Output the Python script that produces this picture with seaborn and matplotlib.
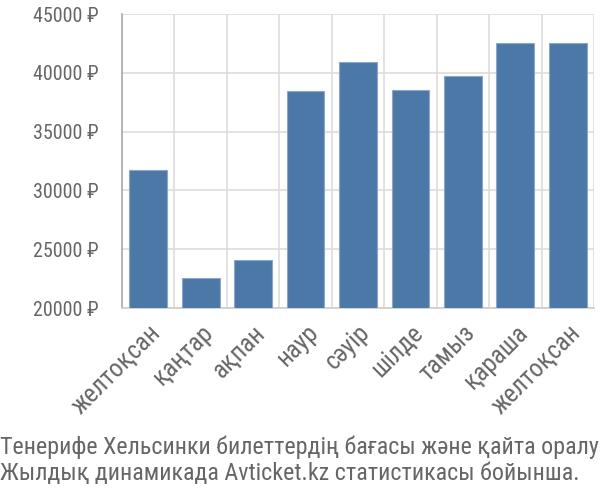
import matplotlib
matplotlib.use("Agg")
import matplotlib.pyplot as plt
import seaborn as sns
import pandas as pd
import numpy as np
from matplotlib.ticker import FixedLocator, FuncFormatter

months = ["желтоқсан", "қаңтар", "ақпан", "наур", "сәуір", "шілде", "тамыз", "қараша", "желтоқсан "]
prices = [31700, 22550, 24050, 38450, 40900, 38500, 39750, 42550, 42550]
yticks = [20000, 25000, 30000, 35000, 40000, 45000]
caption = ["Тенерифе Хельсинки билеттердің бағасы және қайта оралу",
           "Жылдық динамикада Avticket.kz статистикасы бойынша."]

sns.set_style("white")
FAM = ['Roboto Condensed', 'DejaVu Sans']
plt.rcParams['font.family'] = FAM

df = pd.DataFrame({"month": months, "price": prices})

fig = plt.figure(figsize=(6, 5), dpi=100)
ax = fig.add_axes([122/600, 1-308/500, (594-122)/600, (308-14)/500])
sns.barplot(data=df, x="month", y="price", color="#4c78a8", saturation=1,
            width=0.72, edgecolor="#8aa6c8", linewidth=0.8, ax=ax, zorder=3)

ax.set_ylim(20000, 45000)
ax.set_xlim(-0.5, len(months) - 0.5)
ax.set_yticks(yticks)
ax.yaxis.set_major_formatter(FuncFormatter(lambda v, p: f"{int(v)} ₽"))
ax.xaxis.set_minor_locator(FixedLocator(np.arange(-0.5, len(months), 1.0)))
ax.tick_params(axis="x", which="major", length=0, pad=9, labelsize=16, labelcolor="#666666")
ax.tick_params(axis="x", which="minor", length=14, width=1.2, color="#dddddd")
ax.tick_params(axis="y", length=14, width=1.2, color="#dddddd", pad=3, labelsize=16, labelcolor="#666666")
ax.set_xticks(range(len(months)))
ax.set_xticklabels([m.strip() for m in months], rotation=45, ha="right", rotation_mode="anchor")
ax.grid(axis="y", color="#dddddd", linewidth=1.2, zorder=0)
ax.grid(axis="x", which="minor", color="#dddddd", linewidth=1.2, zorder=0)
ax.grid(axis="x", which="major", visible=False)
for s in ["top", "right"]:
    ax.spines[s].set_visible(False)
ax.spines["left"].set_color("#aaaaaa")
ax.spines["left"].set_linewidth(1.2)
ax.spines["bottom"].set_color("#cccccc")
ax.spines["bottom"].set_linewidth(1.2)
ax.set_xlabel("")
ax.set_ylabel("")

caps = []
for i, line in enumerate(caption):
    caps.append(fig.text(0.0, 1 - (447 + i * 26) / 500, line, fontsize=18, color="#666666",
                         ha="left", va="center"))

# fit text sizes to the reference's measured widths
fig.canvas.draw()
r = fig.canvas.get_renderer()
w = caps[0].get_window_extent(r).width
cs = 18 * 598 / w
for c in caps:
    c.set_fontsize(cs)
yl = ax.get_yticklabels()[-1]
ys = 16 * 66 / yl.get_window_extent(r).width
ax.tick_params(axis="y", labelsize=ys)
xl = ax.get_xticklabels()[0]
xs = 16 * 98 / xl.get_window_extent(r).width
ax.tick_params(axis="x", which="major", labelsize=xs)

fig.savefig("out.png", dpi=100)
